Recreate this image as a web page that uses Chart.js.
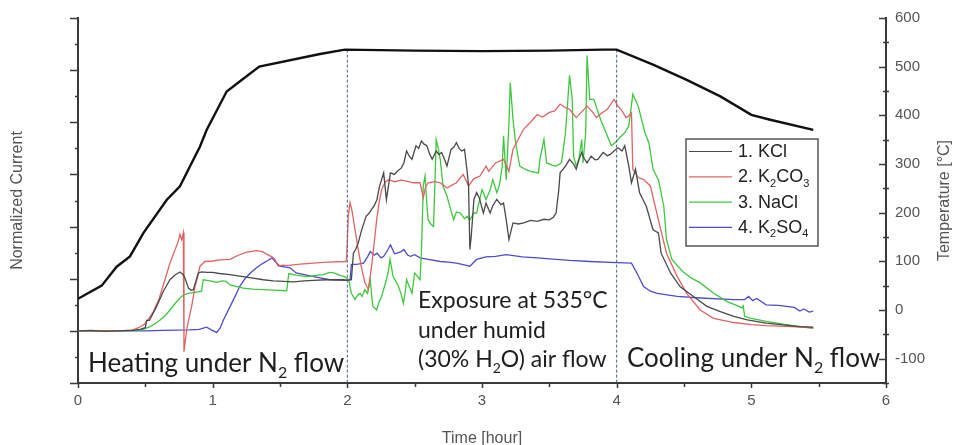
<!DOCTYPE html>
<html>
<head>
<meta charset="utf-8">
<script src="https://cdn.jsdelivr.net/npm/chart.js@4.4.0/dist/chart.umd.min.js"></script>
<style>
  body { margin: 0; background: #fff; }
</style>
</head>
<body>
<canvas id="chart" width="957" height="445"></canvas>
<script>
// Values. Time in hours, current normalized, temperature in degC
const kclTime = [0, 0.1, 0.2, 0.3, 0.4, 0.46, 0.5, 0.51, 0.53, 0.56, 0.584, 0.61, 0.634, 0.66, 0.683, 0.72, 0.757, 0.78, 0.795, 0.82, 0.84, 0.856, 0.875, 0.893, 0.918, 0.96, 1.0, 1.05, 1.129, 1.2, 1.3, 1.376, 1.45, 1.525, 1.6, 1.68, 1.747, 1.85, 1.97, 2.0, 2.03, 2.045, 2.06, 2.08, 2.107, 2.14, 2.16, 2.18, 2.2, 2.22, 2.24, 2.27, 2.29, 2.32, 2.35, 2.37, 2.4, 2.42, 2.44, 2.46, 2.48, 2.51, 2.53, 2.55, 2.57, 2.59, 2.61, 2.63, 2.66, 2.68, 2.7, 2.72, 2.74, 2.77, 2.79, 2.81, 2.83, 2.85, 2.87, 2.89, 2.9, 2.91, 2.92, 2.94, 2.96, 2.98, 3.01, 3.03, 3.06, 3.08, 3.11, 3.14, 3.16, 3.18, 3.2, 3.23, 3.27, 3.31, 3.36, 3.41, 3.46, 3.5, 3.53, 3.55, 3.57, 3.58, 3.62, 3.65, 3.68, 3.7, 3.72, 3.74, 3.76, 3.78, 3.81, 3.84, 3.86, 3.9, 3.93, 3.95, 3.98, 4.01, 4.04, 4.06, 4.09, 4.11, 4.14, 4.17, 4.22, 4.27, 4.31, 4.33, 4.4, 4.47, 4.57, 4.67, 4.77, 4.87, 4.97, 5.11, 5.25, 5.35, 5.46];
const kclCurrent = [0, 0.01, -0.01, 0, 0.01, 0.03, 0.06, 0.2, 0.2, 0.35, 0.47, 0.62, 0.76, 0.88, 0.98, 1.07, 1.13, 1.08, 1.01, 0.82, 0.78, 0.79, 0.95, 1.11, 1.13, 1.12, 1.12, 1.1, 1.08, 1.05, 1.01, 0.98, 0.96, 0.95, 0.94, 0.96, 0.97, 0.98, 0.98, 0.97, 0.98, 1.49, 1.55, 1.68, 1.94, 2.2, 2.25, 2.33, 2.4, 2.52, 2.78, 3.03, 2.52, 3.03, 3.0, 3.06, 3.12, 3.22, 3.45, 3.35, 3.29, 3.55, 3.5, 3.64, 3.58, 3.55, 3.4, 3.29, 3.45, 3.38, 3.42, 3.3, 3.16, 3.48, 3.52, 3.61, 3.5, 3.45, 3.48, 3.05, 2.78, 1.56, 1.81, 2.52, 2.65, 2.55, 2.26, 2.45, 2.26, 2.4, 2.52, 2.42, 2.45, 2.13, 1.75, 2.07, 2.05, 2.07, 2.12, 2.1, 2.14, 2.13, 2.18, 2.26, 2.7, 3.03, 3.16, 3.29, 3.2, 3.1, 3.28, 3.42, 3.3, 3.22, 3.35, 3.28, 3.29, 3.42, 3.36, 3.38, 3.45, 3.51, 3.45, 3.55, 3.16, 2.84, 3.1, 2.65, 2.39, 1.94, 1.88, 1.49, 1.11, 0.85, 0.66, 0.47, 0.37, 0.28, 0.21, 0.15, 0.11, 0.08, 0.07];

const k2co3Time = [0, 0.2, 0.35, 0.41, 0.45, 0.49, 0.53, 0.56, 0.6, 0.63, 0.66, 0.683, 0.72, 0.745, 0.757, 0.77, 0.782, 0.787, 0.807, 0.825, 0.844, 0.869, 0.89, 0.906, 0.943, 1.0, 1.05, 1.129, 1.19, 1.253, 1.327, 1.37, 1.401, 1.44, 1.463, 1.487, 1.52, 1.55, 1.65, 1.747, 1.85, 1.99, 1.995, 2.007, 2.02, 2.035, 2.057, 2.075, 2.094, 2.11, 2.131, 2.156, 2.18, 2.2, 2.218, 2.235, 2.255, 2.28, 2.305, 2.35, 2.4, 2.44, 2.49, 2.54, 2.564, 2.58, 2.6, 2.65, 2.69, 2.74, 2.78, 2.81, 2.86, 2.9, 2.94, 2.985, 3.03, 3.05, 3.1, 3.16, 3.2, 3.23, 3.27, 3.31, 3.36, 3.41, 3.45, 3.5, 3.54, 3.58, 3.62, 3.65, 3.7, 3.74, 3.78, 3.82, 3.85, 3.89, 3.93, 3.98, 4.01, 4.04, 4.07, 4.09, 4.11, 4.12, 4.16, 4.2, 4.25, 4.31, 4.37, 4.45, 4.52, 4.62, 4.72, 4.87, 5.0, 5.11, 5.3, 5.46];
const k2co3Current = [0, 0, 0.01, 0.02, 0.06, 0.12, 0.25, 0.37, 0.6, 0.85, 1.1, 1.3, 1.55, 1.72, 1.85, 1.75, 1.88, -0.4, 0.02, 0.25, 0.47, 0.85, 1.05, 1.24, 1.33, 1.34, 1.36, 1.37, 1.45, 1.51, 1.54, 1.52, 1.47, 1.42, 1.37, 1.24, 1.26, 1.25, 1.28, 1.3, 1.32, 1.33, 1.4, 2.2, 2.46, 2.3, 1.94, 1.65, 1.37, 1.15, 0.92, 0.79, 1.24, 1.7, 2.13, 2.45, 2.71, 2.85, 2.9, 2.86, 2.89, 2.87, 2.84, 2.84, 2.55, 2.75, 2.84, 2.86, 2.84, 2.74, 2.8, 2.84, 3.0, 2.78, 2.92, 2.97, 3.16, 3.06, 3.22, 3.29, 3.06, 3.48, 3.68, 3.87, 4.0, 4.15, 4.1, 4.19, 4.22, 4.35, 4.28, 4.25, 4.09, 4.2, 4.31, 4.2, 4.09, 4.18, 4.25, 4.44, 4.31, 4.22, 4.09, 4.12, 4.18, 3.1, 2.94, 2.9, 2.78, 2.13, 1.49, 1.04, 0.72, 0.4, 0.24, 0.16, 0.12, 0.1, 0.08, 0.06];

const naclTime = [0, 0.3, 0.45, 0.485, 0.535, 0.58, 0.61, 0.65, 0.683, 0.72, 0.757, 0.79, 0.82, 0.87, 0.918, 0.93, 0.96, 1.0, 1.03, 1.07, 1.1, 1.129, 1.18, 1.227, 1.3, 1.376, 1.45, 1.55, 1.565, 1.62, 1.7, 1.76, 1.82, 1.87, 1.9, 1.95, 1.98, 2.0, 2.01, 2.02, 2.03, 2.057, 2.075, 2.094, 2.11, 2.13, 2.15, 2.17, 2.18, 2.19, 2.218, 2.235, 2.255, 2.27, 2.29, 2.305, 2.317, 2.34, 2.36, 2.38, 2.4, 2.416, 2.43, 2.44, 2.46, 2.48, 2.5, 2.52, 2.54, 2.55, 2.564, 2.577, 2.59, 2.6, 2.62, 2.64, 2.65, 2.66, 2.675, 2.69, 2.71, 2.74, 2.765, 2.79, 2.81, 2.84, 2.87, 2.89, 2.91, 2.94, 2.96, 3.0, 3.03, 3.06, 3.08, 3.11, 3.13, 3.15, 3.16, 3.18, 3.2, 3.21, 3.23, 3.25, 3.28, 3.32, 3.36, 3.42, 3.43, 3.46, 3.48, 3.52, 3.55, 3.59, 3.62, 3.65, 3.67, 3.68, 3.7, 3.72, 3.74, 3.75, 3.77, 3.78, 3.8, 3.83, 3.88, 3.93, 3.96, 3.99, 4.02, 4.06, 4.09, 4.12, 4.16, 4.21, 4.24, 4.27, 4.31, 4.35, 4.37, 4.41, 4.49, 4.55, 4.62, 4.72, 4.82, 4.9, 4.93, 4.94, 4.95, 5.0, 5.11, 5.26, 5.46];
const naclCurrent = [0, 0, 0.01, 0.03, 0.08, 0.15, 0.21, 0.3, 0.4, 0.52, 0.63, 0.7, 0.72, 0.74, 0.76, 0.98, 0.97, 0.95, 0.93, 0.96, 0.95, 0.88, 0.85, 0.82, 0.8, 0.79, 0.78, 0.77, 1.1, 1.07, 1.04, 1.06, 1.08, 1.12, 1.11, 1.06, 1.04, 1.0, 0.98, 0.85, 0.72, 0.6, 0.68, 0.72, 0.66, 0.79, 0.72, 0.98, 0.7, 0.47, 0.4, 0.55, 0.66, 0.8, 0.98, 1.15, 1.37, 1.04, 0.95, 0.85, 0.7, 0.53, 0.75, 0.98, 0.85, 0.72, 1.11, 1.05, 0.98, 1.49, 2.78, 2.97, 2.45, 2.13, 2.05, 2.0, 2.8, 3.67, 3.5, 3.29, 2.78, 2.58, 2.35, 2.13, 2.28, 2.26, 2.15, 2.2, 2.13, 2.26, 2.26, 2.71, 2.52, 2.7, 2.9, 2.65, 2.8, 3.16, 3.74, 2.9, 3.99, 4.76, 4.06, 3.6, 3.16, 3.1, 3.06, 3.03, 3.29, 3.67, 3.22, 3.18, 3.16, 3.22, 3.8, 4.9, 4.44, 3.35, 3.16, 3.3, 3.67, 3.22, 3.8, 5.28, 4.44, 4.44, 4.06, 3.74, 3.55, 3.61, 3.7, 3.8, 3.93, 4.54, 4.31, 3.8, 3.6, 3.1, 2.9, 2.39, 1.75, 1.37, 1.14, 1.02, 0.92, 0.72, 0.56, 0.48, 0.44, 0.48, 0.28, 0.24, 0.18, 0.12, 0.05];

const k2so4Time = [0, 0.3, 0.5, 0.63, 0.83, 0.9, 0.955, 0.99, 1.03, 1.055, 1.08, 1.13, 1.17, 1.2, 1.24, 1.28, 1.33, 1.376, 1.41, 1.44, 1.475, 1.5, 1.574, 1.62, 1.75, 1.87, 1.98, 2.02, 2.03, 2.08, 2.12, 2.15, 2.17, 2.2, 2.22, 2.25, 2.27, 2.3, 2.32, 2.35, 2.37, 2.4, 2.42, 2.45, 2.47, 2.5, 2.54, 2.6, 2.69, 2.75, 2.81, 2.86, 2.91, 2.96, 3.03, 3.1, 3.18, 3.3, 3.41, 3.55, 3.65, 3.8, 4.0, 4.11, 4.15, 4.2, 4.25, 4.3, 4.45, 4.62, 4.87, 4.95, 4.98, 5.01, 5.04, 5.11, 5.2, 5.26, 5.32, 5.36, 5.39, 5.43, 5.46];
const k2so4Current = [0, 0, 0, 0.01, 0.02, 0.03, 0.07, 0.02, -0.03, 0.05, 0.21, 0.47, 0.68, 0.85, 1.0, 1.11, 1.22, 1.3, 1.35, 1.4, 1.3, 1.24, 1.21, 1.11, 1.04, 0.98, 0.97, 0.98, 1.27, 1.28, 1.3, 1.42, 1.52, 1.45, 1.49, 1.4, 1.43, 1.55, 1.65, 1.48, 1.49, 1.52, 1.56, 1.45, 1.43, 1.46, 1.4, 1.37, 1.33, 1.32, 1.3, 1.27, 1.24, 1.37, 1.42, 1.43, 1.46, 1.42, 1.4, 1.37, 1.35, 1.33, 1.31, 1.3, 1.11, 0.85, 0.76, 0.72, 0.66, 0.63, 0.6, 0.6, 0.66, 0.58, 0.62, 0.5, 0.49, 0.47, 0.45, 0.38, 0.42, 0.36, 0.38];

const tempTime = [0, 0.176, 0.287, 0.386, 0.485, 0.658, 0.757, 0.831, 0.906, 0.955, 1.104, 1.203, 1.346, 1.797, 1.982, 2.5, 3.0, 3.5, 3.9, 4.0, 4.27, 4.52, 4.77, 5.0, 5.14, 5.46];
const tempValue = [23, 50, 89, 110, 158, 226, 254, 295, 336, 370, 449, 470, 500, 526, 535, 533, 532, 533, 535, 535, 504, 473, 439, 401, 391, 370];

const phaseBounds = [2, 4];        // hours where the humid exposure starts / ends
const phaseLineTop = 535;          // degC, dashed markers run from here to the axis bottom
const tempAxisMin = -150;

const seriesLabels = ['1. KCl', '2. K\u2082CO\u2083', '3. NaCl', '4. K\u2082SO\u2084'];
const seriesColors = ['#4a4a4a', '#e06464', '#3ec83e', '#4c4cd2'];
const noteLines = [
  { text: 'Heating under N\u2082 flow', x: 88, y: 372, size: 26 },
  { text: 'Exposure at 535\u00b0C', x: 418, y: 308, size: 23 },
  { text: 'under humid', x: 418, y: 338, size: 23 },
  { text: '(30% H\u2082O) air flow', x: 418, y: 367, size: 23 },
  { text: 'Cooling under N\u2082 flow', x: 627, y: 367, size: 26 }
];

const axisColor = '#3a3a3a';
const labelColor = '#555';

function pairs(xs, ys) {
  return xs.map((v, i) => ({ x: v, y: ys[i] }));
}

const SUBS = '\u2080\u2081\u2082\u2083\u2084\u2085\u2086\u2087\u2088\u2089';

// draws text, turning unicode subscript digits into small lowered digits
function drawRichText(ctx, text, x, y, size, family) {
  let cx = x;
  let buf = '';
  const flush = () => {
    if (!buf) return;
    ctx.font = size + 'px ' + family;
    ctx.fillText(buf, cx, y);
    cx += ctx.measureText(buf).width;
    buf = '';
  };
  for (const ch of text) {
    const i = SUBS.indexOf(ch);
    if (i >= 0) {
      flush();
      ctx.font = Math.round(size * 0.62) + 'px ' + family;
      ctx.fillText(String(i), cx, y + size * 0.24);
      cx += ctx.measureText(String(i)).width;
    } else {
      buf += ch;
    }
  }
  flush();
}

const decorPlugin = {
  id: 'decor',
  afterDraw(chart) {
    const ctx = chart.ctx;
    const xs = chart.scales.x;
    const ys = chart.scales.y;
    const y2 = chart.scales.y2;
    ctx.save();

    // tick marks
    ctx.strokeStyle = axisColor;
    ctx.lineWidth = 1.5;
    ctx.beginPath();
    xs.ticks.forEach(t => {
      const px = Math.round(xs.getPixelForValue(t.value)) + 0.5;
      const len = Number.isInteger(t.value) ? 5 : 4;
      ctx.moveTo(px, xs.top);
      ctx.lineTo(px, xs.top + len);
    });
    ys.ticks.forEach(t => {
      const py = Math.round(ys.getPixelForValue(t.value)) + 0.5;
      const len = Number.isInteger(t.value) ? 8 : 3;
      ctx.moveTo(ys.right, py);
      ctx.lineTo(ys.right - len, py);
    });
    y2.ticks.forEach(t => {
      const py = Math.round(y2.getPixelForValue(t.value)) + 0.5;
      if (t.value % 100 === 0) {
        ctx.moveTo(y2.left, py);
        ctx.lineTo(y2.left - 7, py);
      } else {
        ctx.moveTo(y2.left - 3, py);
        ctx.lineTo(y2.left + 3, py);
      }
    });
    ctx.stroke();

    // right axis title, reading bottom to top
    ctx.fillStyle = labelColor;
    ctx.font = '16px "Liberation Sans", Arial, sans-serif';
    ctx.textAlign = 'center';
    ctx.textBaseline = 'middle';
    ctx.translate(945, (chart.chartArea.top + chart.chartArea.bottom) / 2);
    ctx.rotate(-Math.PI / 2);
    ctx.fillText('Temperature [\u00b0C]', 0, 0);
    ctx.setTransform(1, 0, 0, 1, 0, 0);

    // phase notes
    ctx.fillStyle = '#1e1e1e';
    ctx.textAlign = 'left';
    ctx.textBaseline = 'alphabetic';
    noteLines.forEach(n => drawRichText(ctx, n.text, n.x, n.y, n.size, 'Lato, "Open Sans", sans-serif'));

    // legend box
    const lx = 686, ly = 139, lw = 132, lh = 107;
    ctx.fillStyle = '#fff';
    ctx.fillRect(lx, ly, lw, lh);
    ctx.strokeStyle = '#555';
    ctx.lineWidth = 1.5;
    ctx.strokeRect(lx, ly, lw, lh);
    seriesLabels.forEach((label, i) => {
      const base = 157 + i * 25.3;
      ctx.strokeStyle = seriesColors[i];
      ctx.lineWidth = 1.2;
      ctx.beginPath();
      ctx.moveTo(689, base - 5.5);
      ctx.lineTo(732, base - 5.5);
      ctx.stroke();
      ctx.fillStyle = '#222';
      drawRichText(ctx, label, 738, base, 18, '"Liberation Sans", Arial, sans-serif');
    });
    ctx.restore();
  }
};

const currentSets = [
  [kclTime, kclCurrent],
  [k2co3Time, k2co3Current],
  [naclTime, naclCurrent],
  [k2so4Time, k2so4Current]
].map(([t, v], i) => ({
  label: seriesLabels[i],
  data: pairs(t, v),
  yAxisID: 'y',
  borderColor: seriesColors[i],
  borderWidth: 1.3,
  pointRadius: 0,
  tension: 0
}));

const markerSets = phaseBounds.map(h => ({
  label: 'phase ' + h,
  data: [{ x: h, y: phaseLineTop }, { x: h, y: tempAxisMin }],
  yAxisID: 'y2',
  borderColor: '#4d6283',
  borderWidth: 1,
  borderDash: [3, 2],
  pointRadius: 0
}));

const tempSet = {
  label: 'Temperature',
  data: pairs(tempTime, tempValue),
  yAxisID: 'y2',
  borderColor: '#111',
  borderWidth: 2.4,
  pointRadius: 0,
  tension: 0
};

const tickFont = { family: '"Liberation Sans", Arial, sans-serif', size: 15 };

new Chart(document.getElementById('chart'), {
  type: 'line',
  data: { datasets: [tempSet, ...markerSets, ...currentSets] },
  options: {
    responsive: false,
    animation: false,
    parsing: true,
    layout: { padding: { top: 18, left: 0, right: 0, bottom: 0 } },
    plugins: { legend: { display: false }, tooltip: { enabled: false } },
    scales: {
      x: {
        type: 'linear',
        min: 0,
        max: 6,
        border: { display: true, color: axisColor, width: 2 },
        grid: { display: false, drawTicks: false },
        ticks: {
          stepSize: 0.5,
          autoSkip: false,
          maxRotation: 0,
          padding: 9,
          color: labelColor,
          font: tickFont,
          callback: v => Number.isInteger(v) ? String(v) : ''
        },
        title: {
          display: true,
          text: 'Time [hour]',
          color: labelColor,
          font: { family: '"Liberation Sans", Arial, sans-serif', size: 16, lineHeight: 0.8 },
          padding: { top: 0, bottom: 0 }
        },
        afterFit: s => { s.height = 62; }
      },
      y: {
        position: 'left',
        min: -1,
        max: 6,
        border: { display: true, color: axisColor, width: 2 },
        grid: { display: false, drawTicks: false },
        ticks: { stepSize: 0.5, display: false },
        title: {
          display: true,
          text: 'Normalized Current',
          color: labelColor,
          font: { family: '"Liberation Sans", Arial, sans-serif', size: 16 },
          padding: { top: 8, bottom: 0 }
        },
        afterFit: s => { s.width = 78; }
      },
      y2: {
        position: 'right',
        min: tempAxisMin,
        max: 600,
        border: { display: true, color: axisColor, width: 2 },
        grid: { display: false, drawTicks: false },
        ticks: {
          stepSize: 50,
          autoSkip: false,
          padding: 9,
          color: labelColor,
          font: tickFont,
          callback: v => v % 100 === 0 ? String(v) : ''
        },
        afterFit: s => { s.width = 71; }
      }
    }
  },
  plugins: [decorPlugin]
});
</script>
</body>
</html>
